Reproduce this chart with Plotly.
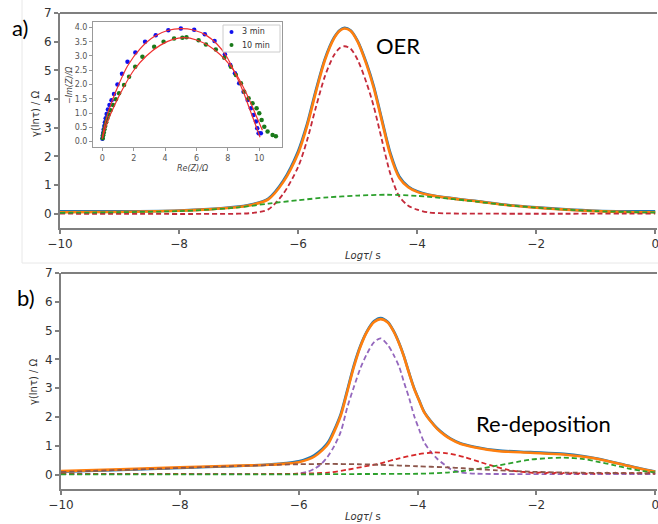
import plotly.graph_objects as go

# ---------------- panel a : DRT of the OER electrode ----------------
a_tau = [-10, -9, -8, -7.5, -7.0, -6.75, -6.5, -6.25, -6.0, -5.85, -5.7, -5.55, -5.4, -5.3,
         -5.22, -5.12, -5.0, -4.85, -4.73, -4.6, -4.45, -4.3, -4.15, -4.0, -3.8, -3.5, -3.0,
         -2.5, -2.0, -1.5, -1.0, -0.5, 0]
a_measured = [0.08, 0.08, 0.11, 0.16, 0.25, 0.34, 0.53, 1.15, 2.18, 3.12, 4.32, 5.40, 6.13, 6.40,
              6.48, 6.40, 6.03, 5.25, 4.46, 3.36, 2.12, 1.30, 0.95, 0.78, 0.66, 0.56, 0.44,
              0.31, 0.22, 0.15, 0.10, 0.08, 0.08]
a_fit = [0.05, 0.06, 0.10, 0.15, 0.23, 0.32, 0.50, 1.10, 2.10, 3.05, 4.25, 5.35, 6.10, 6.38,
         6.46, 6.38, 6.00, 5.20, 4.40, 3.30, 2.05, 1.25, 0.92, 0.76, 0.65, 0.55, 0.43,
         0.30, 0.21, 0.14, 0.09, 0.06, 0.05]

a_peak1_tau = [-10, -7.0, -6.75, -6.5, -6.25, -6.0, -5.85, -5.7, -5.55, -5.4, -5.3, -5.22, -5.12,
               -5.0, -4.85, -4.73, -4.6, -4.45, -4.3, -4.15, -4.0, -3.8, -3.5, -3.0, 0]
a_peak1 = [0, 0, 0.03, 0.15, 0.69, 1.63, 2.55, 3.72, 4.79, 5.52, 5.78, 5.84, 5.76,
           5.37, 4.56, 3.75, 2.64, 1.39, 0.60, 0.28, 0.14, 0.04, 0.01, 0, 0]

a_peak2_tau = [-10, -9, -8, -7.5, -7, -6.5, -6, -5.5, -5, -4.5, -4, -3.5, -3, -2.5, -2, -1.5,
               -1, -0.5, 0]
a_peak2 = [0.03, 0.05, 0.09, 0.14, 0.22, 0.35, 0.47, 0.57, 0.63, 0.66, 0.62, 0.53, 0.42, 0.30,
           0.21, 0.14, 0.09, 0.06, 0.04]

# ---------------- panel b : DRT during re-deposition ----------------
b_tau = [-10, -9, -8, -7, -6.5, -6.2, -6.0, -5.85, -5.74, -5.6, -5.5, -5.4, -5.29, -5.18, -5.07,
         -4.96, -4.85, -4.73, -4.62, -4.5, -4.4, -4.3, -4.23, -4.14, -4.06, -3.97, -3.89, -3.78,
         -3.67, -3.55, -3.45, -3.28, -3.05, -2.66, -2.1, -1.54, -1.2, -0.98, -0.59, -0.25, 0]
b_measured = [0.10, 0.16, 0.23, 0.30, 0.35, 0.40, 0.46, 0.56, 0.67, 0.90, 1.14, 1.56, 2.12, 2.95,
              3.80, 4.48, 4.98, 5.33, 5.44, 5.30, 4.98, 4.52, 4.12, 3.52, 3.02, 2.57, 2.19, 1.87,
              1.61, 1.40, 1.26, 1.09, 0.97, 0.84, 0.78, 0.72, 0.64, 0.56, 0.38, 0.21, 0.11]
b_fit = [0.12, 0.18, 0.25, 0.31, 0.34, 0.38, 0.43, 0.52, 0.62, 0.85, 1.08, 1.50, 2.06, 2.90,
         3.75, 4.45, 4.96, 5.30, 5.40, 5.28, 4.96, 4.50, 4.10, 3.50, 3.00, 2.55, 2.17, 1.85,
         1.59, 1.38, 1.24, 1.07, 0.95, 0.82, 0.76, 0.70, 0.62, 0.55, 0.37, 0.20, 0.10]

b_main_tau = [-10, -7, -6.2, -6.02, -5.85, -5.74, -5.63, -5.52, -5.4, -5.29, -5.18, -5.07, -4.96,
              -4.85, -4.73, -4.62, -4.5, -4.4, -4.31, -4.23, -4.14, -4.06, -3.97, -3.89, -3.78,
              -3.67, -3.55, -3.45, -3.28, -3.0, -2.5, -1.0, 0]
b_main = [0.02, 0.02, 0.02, 0.03, 0.10, 0.20, 0.35, 0.60, 1.00, 1.50, 2.35, 3.05, 3.70,
          4.20, 4.60, 4.73, 4.50, 4.15, 3.75, 3.22, 2.65, 2.06, 1.55, 1.13, 0.80,
          0.55, 0.35, 0.20, 0.08, 0.03, 0.02, 0.02, 0.02]

b_mid_tau = [-10, -8, -6.5, -6.0, -5.5, -5.18, -4.9, -4.62, -4.34, -4.0, -3.73, -3.5, -3.2, -2.94,
             -2.7, -2.49, -2.3, -2.14, -2.0, -1.93, -1.86, -1.79, -1.72, -1.65, -1.58, -1.51,
             -1.44, -1.37, -1.30, -1.23, -1.16, -1.09, -1.02, -0.95, -0.88, -0.81, -0.74, -0.67,
             -0.60, -0.53, -0.46, -0.39, -0.32, -0.25, -0.18, -0.11, -0.04, 0]
b_mid = [0.02, 0.02, 0.02, 0.03, 0.07, 0.17, 0.28, 0.39, 0.55, 0.70, 0.77, 0.74, 0.60, 0.43,
         0.28, 0.17, 0.11, 0.08, 0.05, 0.08, 0.04, 0.08, 0.04, 0.075, 0.035, 0.075,
         0.035, 0.07, 0.03, 0.07, 0.03, 0.07, 0.03, 0.065, 0.03, 0.065, 0.03, 0.065,
         0.03, 0.06, 0.03, 0.06, 0.03, 0.06, 0.03, 0.055, 0.03, 0.04]

b_slow_tau = [-10, -6, -5, -4, -3.5, -3.06, -2.66, -2.3, -2.1, -1.8, -1.54, -1.2, -0.98, -0.7,
              -0.42, -0.2, 0]
b_slow = [0.01, 0.01, 0.02, 0.03, 0.07, 0.17, 0.31, 0.45, 0.52, 0.57, 0.59, 0.54, 0.45, 0.33,
          0.20, 0.12, 0.08]

b_broad_tau = [-10, -9, -8, -7, -6.5, -6.0, -5.5, -5.0, -4.62, -4.0, -3.5, -3.23, -2.66, -2.1,
               -1.5, -1.0, -0.4, 0]
b_broad = [0.09, 0.16, 0.23, 0.30, 0.33, 0.36, 0.37, 0.36, 0.34, 0.29, 0.25, 0.22, 0.15, 0.10,
           0.07, 0.06, 0.05, 0.04]

# ---------------- inset : Nyquist plots ----------------
re_3min = [0.00, 0.02, 0.05, 0.08, 0.12, 0.16, 0.21, 0.27, 0.35, 0.45, 0.58, 0.74, 0.96, 1.25,
           1.60, 2.10, 2.72, 3.40, 4.20, 5.00, 5.85, 6.53, 7.15, 7.81, 8.15, 8.45, 8.72, 9.00,
           9.26, 9.47, 9.64, 9.79, 9.87, 9.96, 10.10]
im_3min = [0.10, 0.20, 0.30, 0.42, 0.55, 0.68, 0.82, 0.97, 1.12, 1.28, 1.45, 1.67, 2.00, 2.38,
           2.80, 3.12, 3.50, 3.73, 3.90, 3.96, 3.92, 3.76, 3.52, 3.06, 2.68, 2.39, 2.04, 1.75,
           1.46, 1.17, 0.93, 0.70, 0.47, 0.29, 0.29]
re_10min = [0.02, 0.05, 0.09, 0.13, 0.18, 0.24, 0.31, 0.40, 0.52, 0.68, 0.86, 1.06, 1.38, 1.70,
            2.09, 2.55, 3.30, 3.90, 4.57, 5.10, 5.36, 6.13, 6.60, 7.23, 7.77, 8.19, 8.51, 8.83,
            9.04, 9.32, 9.57, 9.83, 10.00, 10.15, 10.32, 10.53, 10.85, 11.06]
im_10min = [0.12, 0.22, 0.32, 0.43, 0.55, 0.68, 0.81, 0.95, 1.10, 1.28, 1.48, 1.69, 1.98, 2.27,
            2.62, 2.97, 3.32, 3.50, 3.61, 3.64, 3.66, 3.55, 3.40, 3.23, 2.94, 2.62, 2.33, 2.04,
            1.75, 1.52, 1.34, 1.17, 0.99, 0.76, 0.52, 0.35, 0.23, 0.19]
re_fit_3min = [0, 0.1, 0.3, 0.6, 1.0, 1.6, 2.4, 3.3, 4.2, 5.0, 5.8, 6.6, 7.3, 7.9, 8.5, 9.0,
               9.4, 9.7, 9.9, 10.05]
im_fit_3min = [0.10, 0.45, 0.90, 1.40, 1.95, 2.65, 3.25, 3.68, 3.90, 3.96, 3.91, 3.73, 3.42,
               3.00, 2.35, 1.72, 1.12, 0.68, 0.38, 0.15]
re_fit_10min = [0, 0.15, 0.4, 0.8, 1.3, 2.0, 2.8, 3.7, 4.5, 5.2, 6.0, 6.8, 7.5, 8.1, 8.6, 9.1,
                9.5, 9.9, 10.2]
im_fit_10min = [0.12, 0.40, 0.80, 1.30, 1.85, 2.50, 3.00, 3.38, 3.58, 3.64, 3.56, 3.35, 3.05,
                2.70, 2.30, 1.78, 1.30, 0.78, 0.40]
series_names = ["3 min", "10 min"]

x_ticks = [-10, -8, -6, -4, -2, 0]
y_ticks = [0, 1, 2, 3, 4, 5, 6, 7]

W, H = 658, 524
BLUE, ORANGE, GREEN, PURPLE, BROWN = "#1f77b4", "#ff7f0e", "#2ca02c", "#9467bd", "#8c564b"
RED_A, RED_B = "#c42a3a", "#d62728"
DOT_3, DOT_10 = "#1010ee", "#1a7a1a"
SPINE = "#7f7f7f"


def px(x):
    return x / W


def py(y):
    return 1 - y / H


fig = go.Figure()


def solid(x, y, color, xa, ya):
    fig.add_trace(go.Scatter(x=x, y=y, mode="lines", xaxis=xa, yaxis=ya, showlegend=False,
                             line=dict(color=color, width=2.6, shape="spline", smoothing=0.8)))


def dashed(x, y, color, xa, ya):
    fig.add_trace(go.Scatter(x=x, y=y, mode="lines", xaxis=xa, yaxis=ya, showlegend=False,
                             line=dict(color=color, width=1.8, dash="5px,3px",
                                       shape="spline", smoothing=0.8)))


# panel a
solid(a_tau, a_measured, BLUE, "x", "y")
solid(a_tau, a_fit, ORANGE, "x", "y")
dashed(a_peak1_tau, a_peak1, RED_A, "x", "y")
dashed(a_peak2_tau, a_peak2, GREEN, "x", "y")

# panel b
solid(b_tau, b_measured, BLUE, "x2", "y2")
solid(b_tau, b_fit, ORANGE, "x2", "y2")
dashed(b_main_tau, b_main, PURPLE, "x2", "y2")
dashed(b_mid_tau, b_mid, RED_B, "x2", "y2")
dashed(b_slow_tau, b_slow, GREEN, "x2", "y2")
dashed(b_broad_tau, b_broad, BROWN, "x2", "y2")

# inset: measured spectra and their fits
fig.add_trace(go.Scatter(x=re_3min, y=im_3min, mode="markers", name=series_names[0],
                         xaxis="x3", yaxis="y3", showlegend=False,
                         marker=dict(color=DOT_3, size=4.5)))
fig.add_trace(go.Scatter(x=re_10min, y=im_10min, mode="markers", name=series_names[1],
                         xaxis="x3", yaxis="y3", showlegend=False,
                         marker=dict(color=DOT_10, size=4.5)))
for rx, ry in ((re_fit_3min, im_fit_3min), (re_fit_10min, im_fit_10min)):
    fig.add_trace(go.Scatter(x=rx, y=ry, mode="lines", xaxis="x3", yaxis="y3", showlegend=False,
                             line=dict(color="#f03030", width=1.2, shape="spline", smoothing=0.8)))

tickfont = dict(family="DejaVu Sans", size=12, color="#333333")
main_x = dict(range=[-10, 0.03], tickvals=x_ticks, showgrid=False, zeroline=False,
              showline=True, linecolor=SPINE, linewidth=2, ticks="outside", ticklen=4,
              tickwidth=1.5, tickcolor=SPINE, tickfont=tickfont, automargin=False,
              ticklabeloverflow="allow")
main_y = dict(range=[-0.5, 7], tickvals=y_ticks, showgrid=False, zeroline=False,
              showline=True, linecolor=SPINE, linewidth=2, ticks="outside", ticklen=4,
              tickwidth=1.5, tickcolor=SPINE, tickfont=tickfont, automargin=False)

inset_font = dict(family="DejaVu Sans", size=8, color="#555555")
inset_axis = dict(showgrid=False, zeroline=False, showline=True, mirror=True,
                  linecolor="#999999", linewidth=1, ticks="outside", ticklen=3,
                  tickcolor="#999999", tickfont=inset_font, automargin=False)

fig.update_layout(
    width=W, height=H, margin=dict(l=0, r=0, t=0, b=0, autoexpand=False),
    paper_bgcolor="white", plot_bgcolor="white", showlegend=False,
    xaxis=dict(**main_x, anchor="y", domain=[px(60), px(657)]),
    yaxis=dict(**main_y, anchor="x", domain=[py(228), py(13)]),
    xaxis2=dict(**main_x, anchor="y2", domain=[px(61), px(657)]),
    yaxis2=dict(**main_y, anchor="x2", domain=[py(489), py(273)]),
    xaxis3=dict(range=[-0.6, 11.45], tickvals=[0, 2, 4, 6, 8, 10], domain=[px(93), px(282)],
                anchor="y3", **inset_axis),
    yaxis3=dict(range=[-0.19, 4.19], tickvals=[0, 0.5, 1, 1.5, 2, 2.5, 3, 3.5, 4], tickformat=".1f",
                domain=[py(147), py(22)], anchor="x3", **inset_axis),
)

# top spines of the two main panels and the light frame around panel a
for xr, yr in (("x domain", "y domain"), ("x2 domain", "y2 domain")):
    fig.add_shape(type="line", xref=xr, yref=yr, x0=0, x1=1, y0=1, y1=1,
                  line=dict(color=SPINE, width=2))
fig.add_shape(type="rect", xref="paper", yref="paper", x0=px(22), x1=1.01, y0=py(263), y1=1.01,
              line=dict(color="#e8e8e8", width=1), layer="below")

# inset legend box with its two dot symbols
fig.add_shape(type="rect", xref="paper", yref="paper", x0=px(223), x1=px(280), y0=py(52), y1=py(25),
              line=dict(color="#cccccc", width=1), fillcolor="white")
for cy, col in ((32, DOT_3), (45, DOT_10)):
    fig.add_shape(type="circle", xref="paper", yref="paper", x0=px(229.5), x1=px(233.5),
                  y0=py(cy + 2), y1=py(cy - 2), line=dict(width=0), fillcolor=col)

label_font = dict(family="Lato", size=22, color="black")
small = dict(family="DejaVu Sans", size=8, color="#333")
ann = [
    dict(text="a)", x=px(10), y=py(28), xanchor="left", yanchor="middle", font=label_font),
    dict(text="b)", x=px(15), y=py(297), xanchor="left", yanchor="middle", font=label_font),
    dict(text="OER", x=px(374), y=py(46), xanchor="left", yanchor="middle", font=label_font),
    dict(text="Re-deposition", x=px(474), y=py(423), xanchor="left", yanchor="middle", font=label_font),
    dict(text="γ(lnτ) / Ω", x=px(36), y=py(114), textangle=-90, xanchor="center", yanchor="middle",
         font=dict(family="DejaVu Sans", size=10, color="#333")),
    dict(text="γ(lnτ) / Ω", x=px(33), y=py(382), textangle=-90, xanchor="center", yanchor="middle",
         font=dict(family="DejaVu Sans", size=10, color="#333")),
    dict(text="<i>Logτ</i>/ s", x=px(363), y=py(255), xanchor="center", yanchor="middle",
         font=dict(family="DejaVu Sans", size=10, color="#333")),
    dict(text="<i>Logτ</i>/ s", x=px(363), y=py(516), xanchor="center", yanchor="middle",
         font=dict(family="DejaVu Sans", size=10, color="#333")),
    dict(text="<i>−Im(Z)/Ω</i>", x=px(69), y=py(85), textangle=-90, xanchor="center", yanchor="middle",
         font=dict(family="DejaVu Sans", size=8, color="#444")),
    dict(text="<i>Re(Z)/Ω</i>", x=px(193), y=py(168), xanchor="center", yanchor="middle",
         font=dict(family="DejaVu Sans", size=8, color="#444")),
    dict(text=series_names[0], x=px(240), y=py(32), xanchor="left", yanchor="middle", font=small),
    dict(text=series_names[1], x=px(240), y=py(45), xanchor="left", yanchor="middle", font=small),
]
for a in ann:
    fig.add_annotation(xref="paper", yref="paper", showarrow=False, **a)

fig.write_html("out.html")
